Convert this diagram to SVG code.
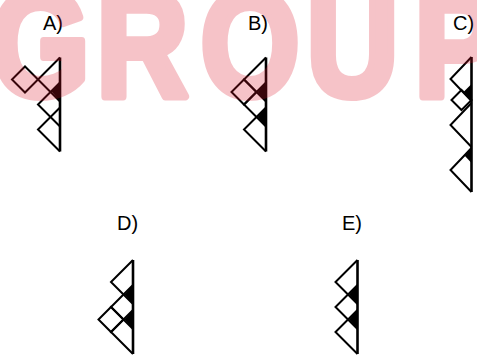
<svg xmlns="http://www.w3.org/2000/svg" width="477" height="356" viewBox="0 0 477 356">
<style>
.ln{fill:none;stroke:#000;stroke-width:2;stroke-linejoin:miter}
.vl{fill:none;stroke:#000;stroke-width:2.6}
.bk{fill:#000;stroke:none}
.lb{font-family:"Liberation Sans",Arial,sans-serif;font-size:20px;fill:#000}
.wm{font-family:"Liberation Sans",Arial,sans-serif;font-weight:bold;font-size:150px;fill:#dc1428;stroke:#dc1428;stroke-width:8;stroke-linejoin:round}
</style>
<rect width="477" height="356" fill="#fff"/>
<g id="optA">
<text class="lb" x="43" y="30">A)</text>
<polyline class="ln" points="60,57.5 38,79.5 60,101.5"/>
<polyline class="ln" points="60,82.5 38,104.5 60,126.5"/>
<polyline class="ln" points="60,107.5 38,129.5 60,151.5"/>
<polygon class="ln" points="38,79.5 25,66.5 12,79.5 25,92.5"/>
<polygon class="bk" points="60,82.5 51.5,91.5 60,101.5"/>
<line class="vl" x1="60" y1="57.5" x2="60" y2="151.5"/>
</g>
<g id="optB">
<text class="lb" x="248" y="30">B)</text>
<polyline class="ln" points="266,57.5 244,79.5 266,101.5"/>
<polyline class="ln" points="266,82.5 244,104.5 266,126.5"/>
<polyline class="ln" points="266,107.5 244,129.5 266,151.5"/>
<polygon class="ln" points="244,79.5 231.5,92 244,104.5 256.5,92"/>
<polygon class="bk" points="266,82.5 257.5,92 266,101.5"/>
<polygon class="bk" points="266,107.5 257.5,117 266,126.5"/>
<line class="vl" x1="266" y1="57.5" x2="266" y2="151.5"/>
</g>
<g id="optC">
<text class="lb" x="453" y="30">C)</text>
<polyline class="ln" points="471.5,57 450.5,79 471.5,101"/>
<polygon class="ln" points="461.5,90 471.5,100 461.5,110 451.5,100"/>
<polyline class="ln" points="471.5,103 450.5,125 471.5,147"/>
<polyline class="ln" points="471.5,148 450.5,170 471.5,192"/>
<polygon class="bk" points="471.5,84 463.5,92 471.5,100"/>
<polygon class="bk" points="471.5,147 464,155 471.5,163"/>
<line class="vl" x1="471.5" y1="57" x2="471.5" y2="192"/>
</g>
<g id="optD">
<text class="lb" x="117" y="230">D)</text>
<polyline class="ln" points="133,260 111,282 133,304"/>
<polyline class="ln" points="133,285 111,307 133,329"/>
<polyline class="ln" points="133,310 111,332 133,354"/>
<polygon class="ln" points="111,307 98.5,319.5 111,332 123.5,319.5"/>
<polygon class="bk" points="133,285 124.5,294.5 133,304"/>
<polygon class="bk" points="133,310 124.5,319.5 133,329"/>
<line class="vl" x1="133" y1="260" x2="133" y2="354"/>
</g>
<g id="optE">
<text class="lb" x="342" y="230">E)</text>
<polyline class="ln" points="357.5,260 335.5,282 357.5,304"/>
<polyline class="ln" points="357.5,285 335.5,307 357.5,329"/>
<polyline class="ln" points="357.5,310 335.5,332 357.5,354"/>
<polygon class="bk" points="357.5,285 349,294.5 357.5,304"/>
<polygon class="bk" points="357.5,310 349,319.5 357.5,329"/>
<line class="vl" x1="357.5" y1="260" x2="357.5" y2="354"/>
</g>
<g id="watermark" opacity="0.25">
<text class="wm" transform="scale(0.85,1)" x="-11.3 113.3 235.8 360.7 487.4" y="96">GROUP</text>
</g>
</svg>
